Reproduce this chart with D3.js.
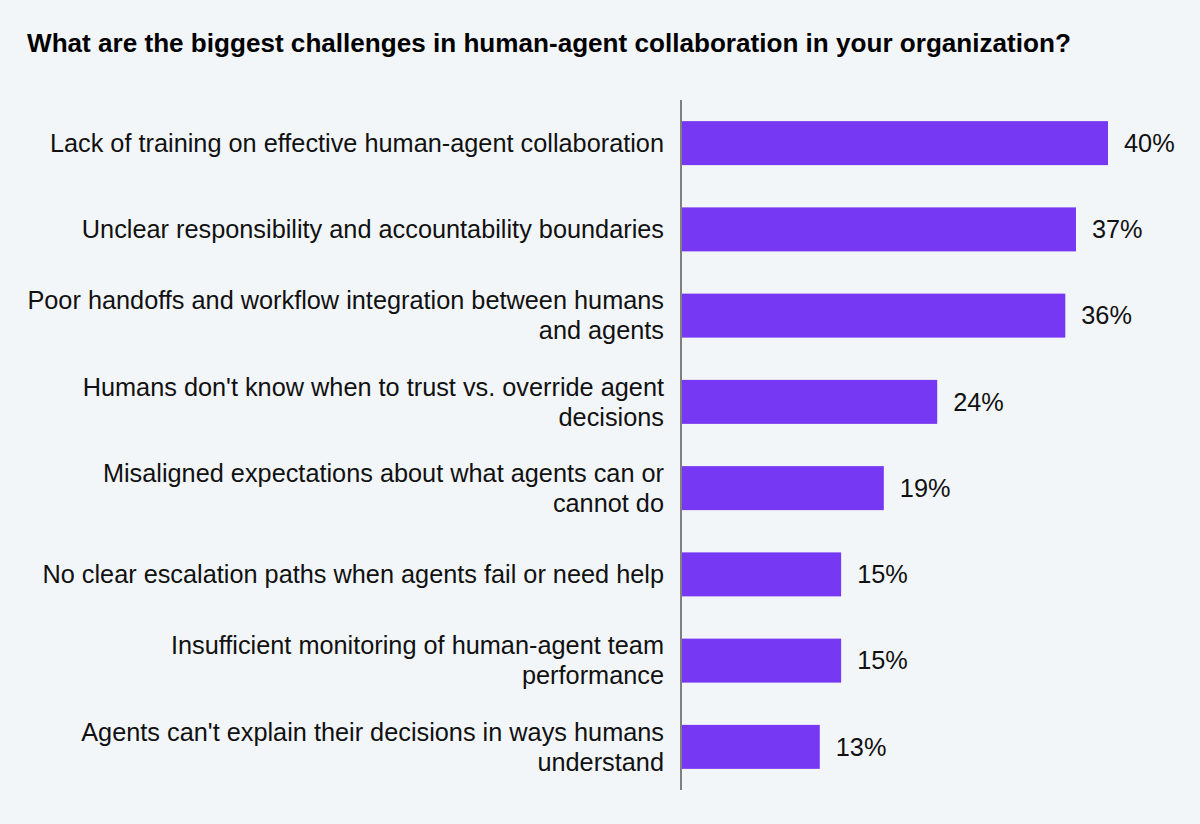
<!DOCTYPE html>
<html>
<head>
<meta charset="utf-8">
<script src="https://cdn.jsdelivr.net/npm/d3@7"></script>
<style>
  html, body { margin: 0; padding: 0; background: #f3f6f9; }
  svg { display: block; }
</style>
</head>
<body>
<svg id="chart" width="1200" height="824"></svg>
<script>
const title = "What are the biggest challenges in human-agent collaboration in your organization?";

const categories = [
  ["Lack of training on effective human-agent collaboration"],
  ["Unclear responsibility and accountability boundaries"],
  ["Poor handoffs and workflow integration between humans", "and agents"],
  ["Humans don't know when to trust vs. override agent", "decisions"],
  ["Misaligned expectations about what agents can or", "cannot do"],
  ["No clear escalation paths when agents fail or need help"],
  ["Insufficient monitoring of human-agent team", "performance"],
  ["Agents can't explain their decisions in ways humans", "understand"]
];

const values = [40, 37, 36, 24, 19, 15, 15, 13];

const width = 1200, height = 824;
const axisX = 681;
const font = "Liberation Sans, Arial, sans-serif";

const svg = d3.select("#chart");

svg.append("rect")
  .attr("width", width)
  .attr("height", height)
  .attr("fill", "#f3f6f9");

svg.append("text")
  .attr("x", 27)
  .attr("y", 52)
  .attr("font-family", font)
  .attr("font-weight", "bold")
  .attr("font-size", "26.1px")
  .attr("fill", "#000")
  .text(title);

const data = categories.map((c, i) => ({ lines: c, value: values[i], idx: i }));

const y = d3.scaleBand()
  .domain(data.map(d => d.idx))
  .range([100, 790])
  .paddingInner(0.49)
  .paddingOuter(0.245);

const x = d3.scaleLinear()
  .domain([0, 40])
  .range([axisX, 1108]);

svg.selectAll(".bar")
  .data(data)
  .enter()
  .append("rect")
  .attr("class", "bar")
  .attr("x", x(0))
  .attr("y", d => y(d.idx))
  .attr("width", d => x(d.value) - x(0))
  .attr("height", y.bandwidth())
  .attr("fill", "#7638f2");

svg.append("line")
  .attr("x1", axisX)
  .attr("x2", axisX)
  .attr("y1", 100)
  .attr("y2", 790)
  .attr("stroke", "#808080")
  .attr("stroke-width", 2);

const labels = svg.selectAll(".label")
  .data(data)
  .enter()
  .append("text")
  .attr("class", "label")
  .attr("text-anchor", "end")
  .attr("font-family", font)
  .attr("font-size", "25.3px")
  .attr("fill", "#111");

labels.each(function (d) {
  const cy = y(d.idx) + y.bandwidth() / 2;
  const n = d.lines.length;
  d3.select(this).selectAll("tspan")
    .data(d.lines)
    .enter()
    .append("tspan")
    .attr("x", 664)
    .attr("y", (l, j) => cy + (j - (n - 1) / 2) * 30)
    .attr("dy", "0.35em")
    .text(l => l);
});

svg.selectAll(".value")
  .data(data)
  .enter()
  .append("text")
  .attr("class", "value")
  .attr("x", d => x(d.value) + 16)
  .attr("y", d => y(d.idx) + y.bandwidth() / 2)
  .attr("dy", "0.35em")
  .attr("font-family", font)
  .attr("font-size", "25.3px")
  .attr("fill", "#111")
  .text(d => d.value + "%");
</script>
</body>
</html>
